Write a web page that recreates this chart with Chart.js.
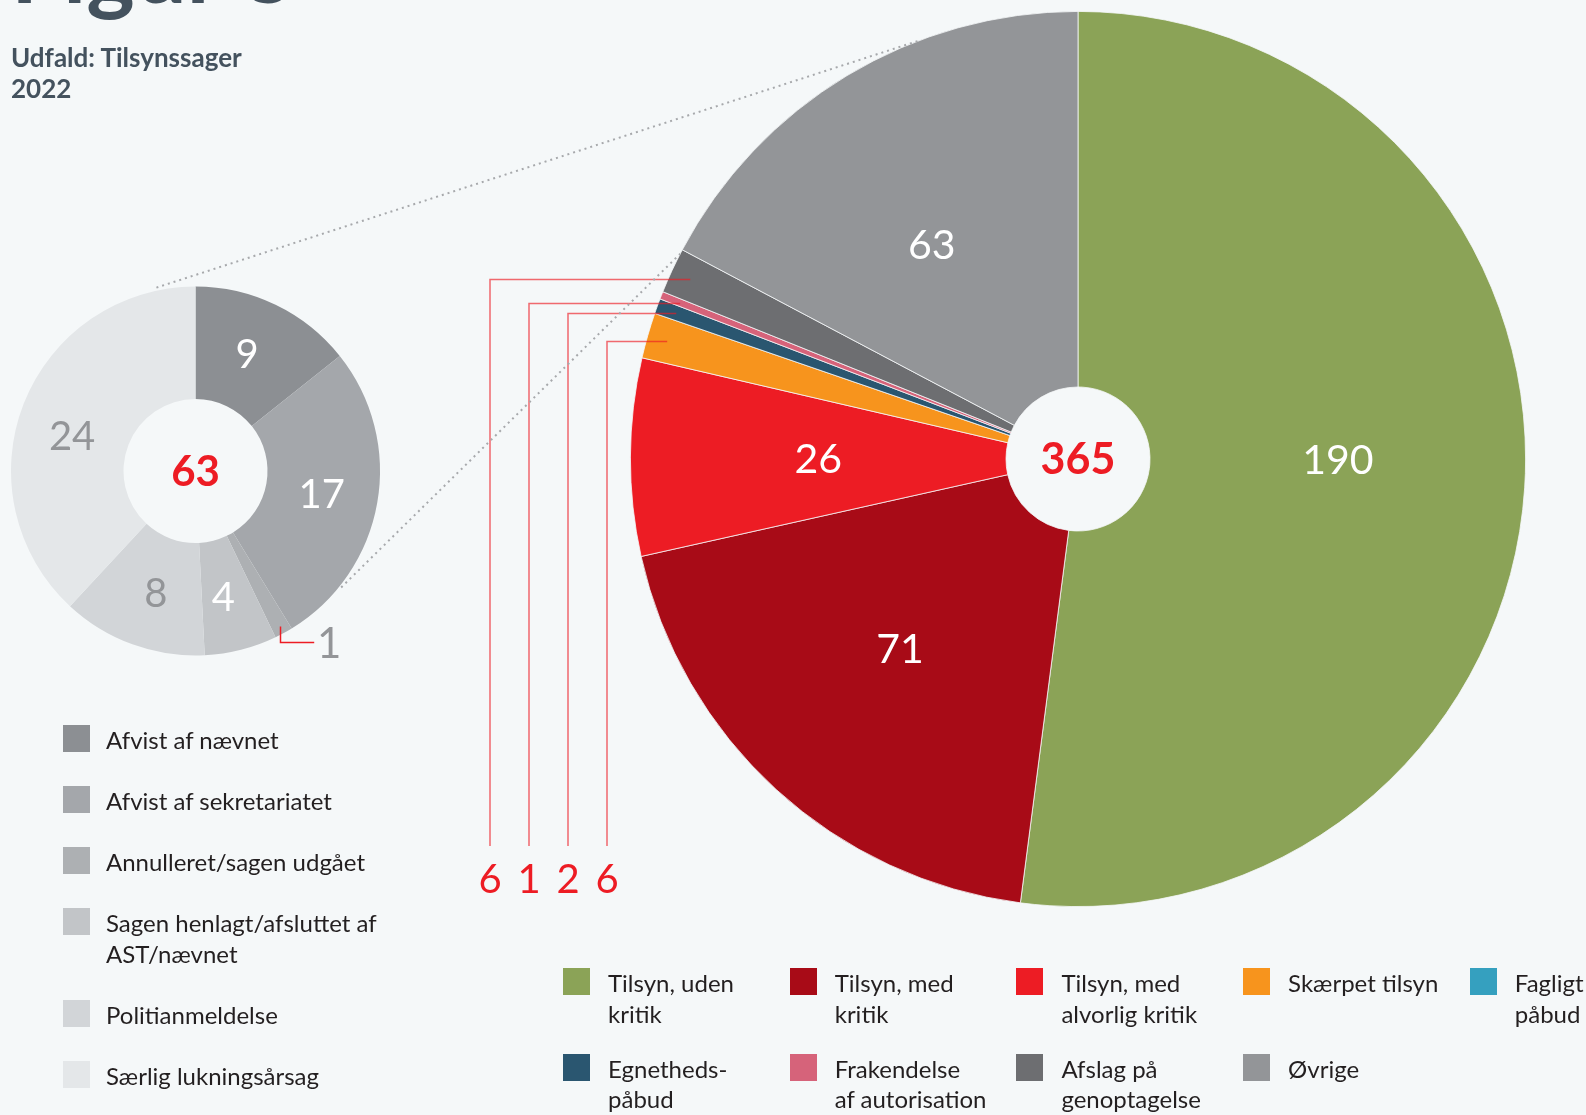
<!DOCTYPE html>
<html>
<head>
<meta charset="utf-8">
<script src="https://cdn.jsdelivr.net/npm/chart.js@4/dist/chart.umd.min.js"></script>
<style>
html,body{margin:0;padding:0;background:#f5f8f9;}
#wrap{position:relative;width:1586px;height:1115px;overflow:hidden;background:#f5f8f9;font-family:Lato,"Noto Sans",sans-serif;}
canvas{position:absolute;left:0;top:0;}
#big{z-index:1;} #small{z-index:2;}
.fig{position:absolute;left:11px;top:-78px;font-size:92px;font-weight:700;line-height:92px;color:#44525e;z-index:3;white-space:nowrap;}
.sub{position:absolute;left:11px;top:42px;font-size:26px;font-weight:700;line-height:30.7px;color:#44525e;z-index:3;}
.leg{position:absolute;z-index:3;color:#231f20;font-size:24px;line-height:30.5px;letter-spacing:0px;}
.item{position:absolute;}
.sw{position:absolute;left:0;top:0;width:27px;height:27px;}
.tx{position:absolute;white-space:nowrap;}
</style>
</head>
<body>
<div id="wrap">
  <div class="fig">Figur 3</div>
  <div class="sub">Udfald: Tilsynssager<br>2022</div>
  <canvas id="big" width="1586" height="1115"></canvas>
  <canvas id="small" width="1586" height="1115"></canvas>
  <div class="leg" id="legLeft"></div>
  <div class="leg" id="legBottom"></div>
</div>
<script>
// ---------- DATA ----------
const mainCategories = ['Tilsyn, uden kritik','Tilsyn, med kritik','Tilsyn, med alvorlig kritik','Skærpet tilsyn','Fagligt påbud','Egnetheds-påbud','Frakendelse af autorisation','Afslag på genoptagelse','Øvrige'];
const mainValues = [190, 71, 26, 6, 0, 2, 1, 6, 63];
const mainColors = ['#8ba357','#a80b17','#ed1c24','#f7941d','#35a0bf','#2a5670','#d6637a','#6d6e71','#939598'];
const mainLegendLines = [['Tilsyn, uden','kritik'],['Tilsyn, med','kritik'],['Tilsyn, med','alvorlig kritik'],['Skærpet tilsyn'],['Fagligt','påbud'],['Egnetheds-','påbud'],['Frakendelse','af autorisation'],['Afslag på','genoptagelse'],['Øvrige']];
const mainExternal = [7, 6, 5, 3];   // slices labelled below with leader lines (left to right)
const mainLabelShiftDeg = [-3.7, 0.8, 0, 0, 0, 0, 0, 0, -3.2];

const otherCategories = ['Afvist af nævnet','Afvist af sekretariatet','Annulleret/sagen udgået','Sagen henlagt/afsluttet af AST/nævnet','Politianmeldelse','Særlig lukningsårsag'];
const otherValues = [9, 17, 1, 4, 8, 24];
const otherColors = ['#8c8f93','#a4a7ab','#adb0b3','#c2c5c8','#d2d5d8','#e4e7e9'];
const otherLabelColors = ['#ffffff','#ffffff','#939598','#ffffff','#939598','#939598'];
const otherLegendLines = [['Afvist af nævnet'],['Afvist af sekretariatet'],['Annulleret/sagen udgået'],['Sagen henlagt/afsluttet af','AST/nævnet'],['Politianmeldelse'],['Særlig lukningsårsag']];
const otherExternal = [2];
const otherLabelShiftDeg = [-2, 0, 0, 1.7, -2, -5.6];

const mainTotal = mainValues.reduce((a,b)=>a+b,0);
const otherTotal = otherValues.reduce((a,b)=>a+b,0);

const BG = '#f5f8f9';
const RED = '#ed1c24';
const FONT = 'Lato';

function digitText(ctx, txt, x, y, size, weight, color){
  ctx.font = (weight||'normal') + ' ' + size + 'px ' + FONT;
  ctx.fillStyle = color;
  ctx.textAlign = 'center';
  ctx.textBaseline = 'alphabetic';
  ctx.fillText(txt, x, y + size*0.36);
}
function polar(arc, ang, r){ return {x: arc.x + r*Math.cos(ang), y: arc.y + r*Math.sin(ang)}; }
function labelPoint(arc, shiftDeg){
  const mid = (arc.startAngle + arc.endAngle)/2 + shiftDeg*Math.PI/180;
  return polar(arc, mid, (arc.innerRadius + arc.outerRadius)/2);
}

// ---------- BIG PIE ----------
const bigPlugin = {
  id:'bigLabels',
  afterDatasetsDraw(chart){
    const ctx = chart.ctx;
    const arcs = chart.getDatasetMeta(0).data;
    const c = arcs[0];
    ctx.save();
    digitText(ctx, String(mainTotal), c.x, c.y, 43, 'bold', RED);
    arcs.forEach((arc,i)=>{
      if (mainValues[i] > 0 && mainExternal.indexOf(i) < 0){
        const p = labelPoint(arc, mainLabelShiftDeg[i]);
        digitText(ctx, String(mainValues[i]), p.x, p.y, 41, 'normal', '#ffffff');
      }
    });
    // leader lines
    const colX0 = c.x - 588, colStep = 39, bottomY = c.y + 387;
    mainExternal.forEach((idx,k)=>{
      const arc = arcs[idx];
      const mid = (arc.startAngle + arc.endAngle)/2;
      const p = polar(arc, mid, arc.outerRadius*0.955);
      const x = colX0 + k*colStep;
      ctx.strokeStyle = 'rgba(237,28,36,0.65)';
      ctx.lineWidth = 1.5;
      ctx.beginPath();
      ctx.moveTo(p.x, Math.round(p.y)+0.5);
      ctx.lineTo(x, Math.round(p.y)+0.5);
      ctx.lineTo(x, bottomY);
      ctx.stroke();
      digitText(ctx, String(mainValues[idx]), x, bottomY + 33, 40, 'normal', RED);
    });
    ctx.restore();
  }
};

const bigChart = new Chart(document.getElementById('big'), {
  type:'doughnut',
  data:{ labels: mainCategories, datasets:[{ data: mainValues, backgroundColor: mainColors, borderColor: BG, borderWidth: 0.8 }]},
  options:{
    responsive:false, animation:false, devicePixelRatio:1,
    cutout: 72,
    layout:{ padding:{ left:630, top:11, right:60, bottom:208 } },
    plugins:{ legend:{display:false}, tooltip:{enabled:false} }
  },
  plugins:[bigPlugin]
});

// ---------- SMALL DOUGHNUT ----------
const smallPlugin = {
  id:'smallLabels',
  afterDatasetsDraw(chart){
    const ctx = chart.ctx;
    const arcs = chart.getDatasetMeta(0).data;
    const c = arcs[0];
    ctx.save();
    // dotted connectors to the big pie's "Øvrige" slice
    const bArcs = bigChart.getDatasetMeta(0).data;
    const ov = bArcs[bArcs.length-1];
    ctx.strokeStyle = '#a7a9ac';
    ctx.lineWidth = 2;
    ctx.setLineDash([2,4]);
    const s1 = polar(c, -Math.PI/2 - 0.21, c.outerRadius + 3);
    const e1 = polar(ov, -Math.PI/2 - 0.365, ov.outerRadius);
    const s2 = polar(c, -Math.PI/2 + 2.245, c.outerRadius + 2);
    const e2 = polar(ov, ov.startAngle - 0.01, ov.outerRadius);
    ctx.beginPath(); ctx.moveTo(s1.x,s1.y); ctx.lineTo(e1.x,e1.y); ctx.stroke();
    ctx.beginPath(); ctx.moveTo(s2.x,s2.y); ctx.lineTo(e2.x,e2.y); ctx.stroke();
    ctx.setLineDash([]);

    digitText(ctx, String(otherTotal), c.x, c.y, 42, 'bold', RED);
    arcs.forEach((arc,i)=>{
      if (otherExternal.indexOf(i) >= 0){
        const mid = (arc.startAngle + arc.endAngle)/2;
        const p = polar(arc, mid, arc.outerRadius*0.96);
        const yb = p.y + 16, xe = p.x + 34;
        ctx.strokeStyle = RED; ctx.lineWidth = 1.5;
        ctx.beginPath(); ctx.moveTo(Math.round(p.x)+0.5, p.y); ctx.lineTo(Math.round(p.x)+0.5, yb); ctx.lineTo(xe, yb); ctx.stroke();
        digitText(ctx, String(otherValues[i]), xe + 15, yb, 42, 'normal', otherLabelColors[i]);
      } else {
        const p = labelPoint(arc, otherLabelShiftDeg[i]);
        digitText(ctx, String(otherValues[i]), p.x, p.y, 40, 'normal', otherLabelColors[i]);
      }
    });
    ctx.restore();
  }
};

const smallChart = new Chart(document.getElementById('small'), {
  type:'doughnut',
  data:{ labels: otherCategories, datasets:[{ data: otherValues, backgroundColor: otherColors, borderWidth: 0 }]},
  options:{
    responsive:false, animation:false, devicePixelRatio:1,
    cutout: 72,
    layout:{ padding:{ left:11, top:286.5, right:1206, bottom:459.5 } },
    plugins:{ legend:{display:false}, tooltip:{enabled:false} }
  },
  plugins:[smallPlugin]
});

// ---------- LEGENDS (HTML) ----------
function makeItem(parent, x, y, color, lines, textOffset){
  const it = document.createElement('div');
  it.className = 'item';
  it.style.left = x + 'px'; it.style.top = y + 'px';
  const sw = document.createElement('div'); sw.className='sw'; sw.style.background = color;
  const tx = document.createElement('div'); tx.className='tx'; tx.style.left = textOffset + 'px'; tx.style.top = '0px';
  tx.innerHTML = lines.join('<br>');
  it.appendChild(sw); it.appendChild(tx);
  parent.appendChild(it);
}
const legLeft = document.getElementById('legLeft');
legLeft.style.left = '63px'; legLeft.style.top = '725px';
let yy = 0;
otherCategories.forEach((c,i)=>{
  makeItem(legLeft, 0, yy, otherColors[i], otherLegendLines[i], 43);
  yy += otherLegendLines[i].length*30.5 + 30.5;
});
const legBottom = document.getElementById('legBottom');
legBottom.style.left = '563px'; legBottom.style.top = '968px';
mainCategories.forEach((c,i)=>{
  const col = i % 5, row = Math.floor(i/5);
  makeItem(legBottom, col*226.7, row*85.5, mainColors[i], mainLegendLines[i], 45);
});
</script>
</body>
</html>
